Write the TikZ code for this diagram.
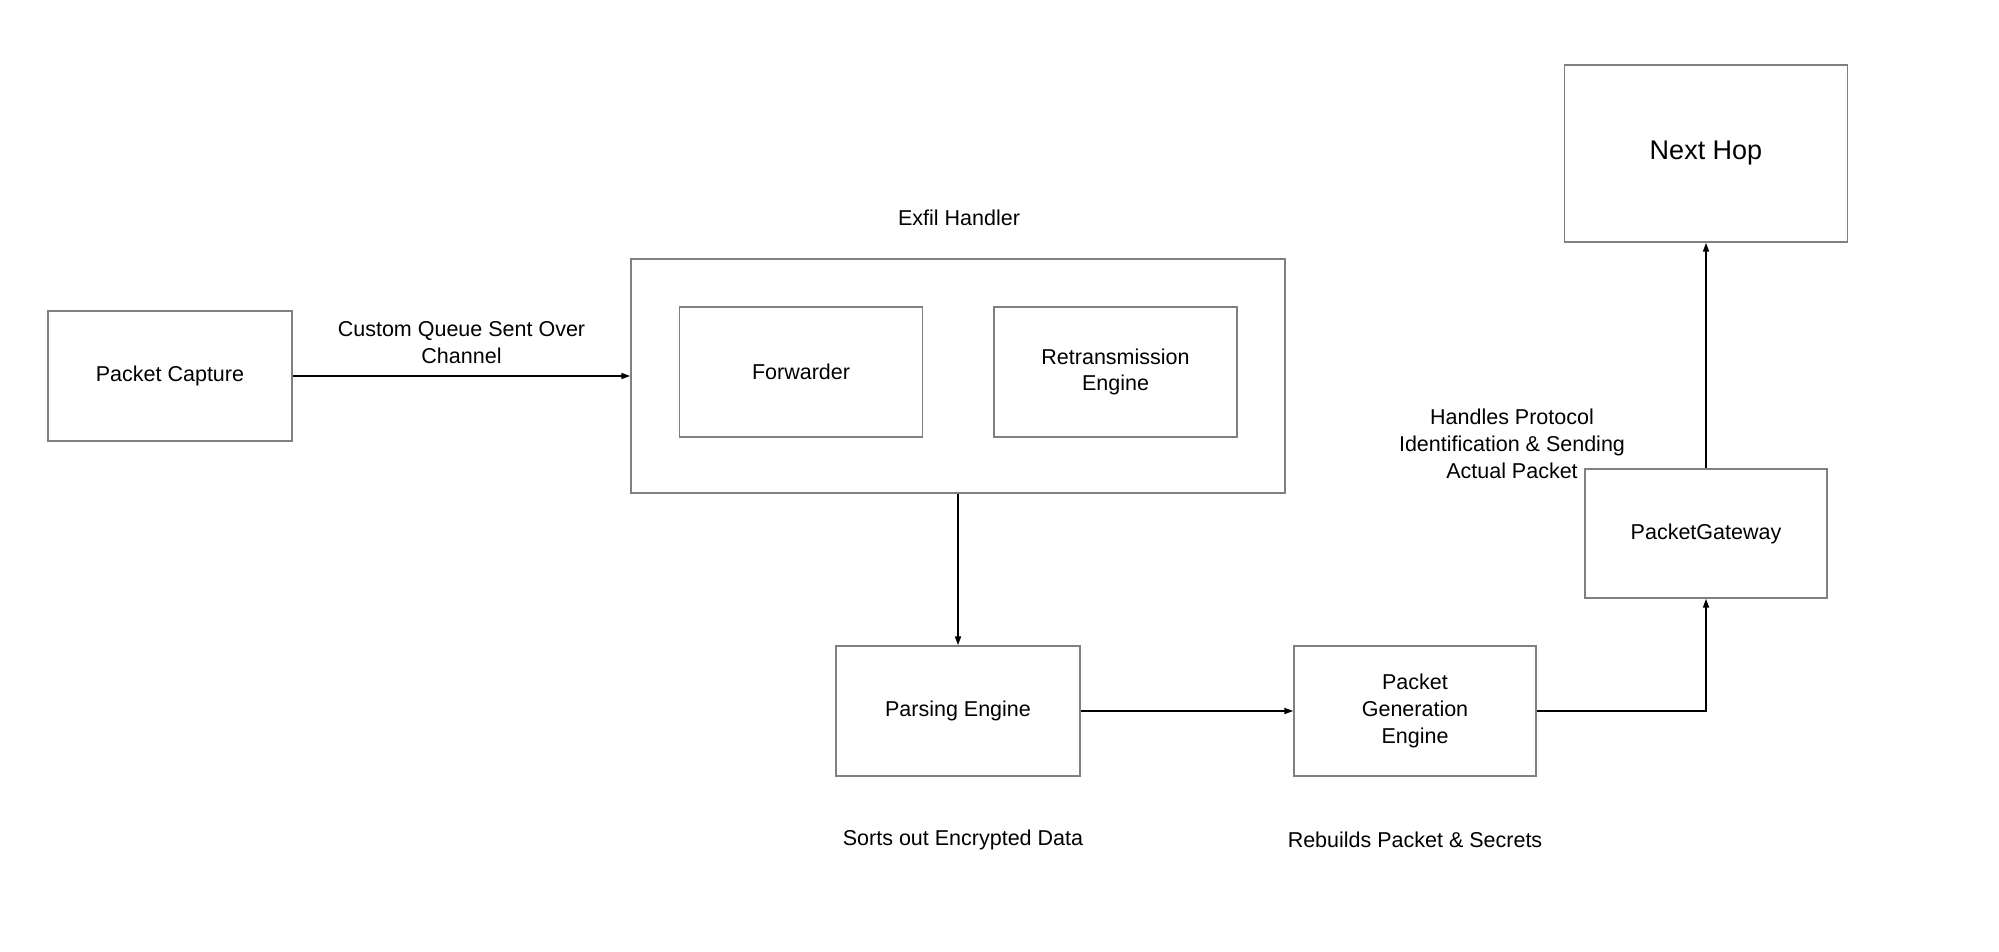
\documentclass[tikz,border=0pt]{standalone}
\usepackage{fontspec}
\setmainfont{Liberation Sans}
\usetikzlibrary{arrows.meta}
\begin{document}
\begin{tikzpicture}[x=1pt,y=-1pt,
  box/.style={draw=black!50,line width=1.4pt,fill=white,align=center,inner sep=0pt,
    font=\fontsize{21.5}{26.8}\selectfont},
  lbl/.style={align=center,inner sep=0pt,font=\fontsize{21.5}{26.8}\selectfont},
  conn/.style={line width=1.8pt,-{Triangle[length=9pt,width=6pt]}}]
\fill[white] (0,0) rectangle (1999,952);
\useasboundingbox (0,0) rectangle (1999,952);
\node[box,minimum width=244pt,minimum height=130pt] (pc) at (170,376) {Packet Capture};
\node[box,minimum width=654pt,minimum height=234pt] (ex) at (958,376) {};
\node[box,minimum width=243pt,minimum height=130pt] (fw) at (801,372) {Forwarder};
\node[box,minimum width=243pt,minimum height=130pt] (re) at (1115.5,372) {Retransmission\\Engine};
\node[box,minimum width=244pt,minimum height=130pt] (pe) at (958,711) {Parsing Engine};
\node[box,minimum width=242pt,minimum height=130pt] (pg) at (1415,711) {Packet\\Generation\\Engine};
\node[box,minimum width=242pt,minimum height=129pt] (gw) at (1706,533.5) {PacketGateway};
\node[box,minimum width=283pt,minimum height=177pt,font=\fontsize{27}{32}\selectfont] (nh) at (1706,153.5) {\raisebox{6pt}{Next Hop}};
\node[lbl] (lq) at (461.5,342.5) {Custom Queue Sent Over\\Channel};
\node[lbl] (lex) at (959,218) {Exfil Handler};
\node[lbl] (lh) at (1512,444) {Handles Protocol\\Identification \& Sending\\Actual Packet};
\node[lbl] (ls) at (963,840) {Sorts out Encrypted Data};
\node[lbl] (lr) at (1415,840) {Rebuilds Packet \& Secrets};
\draw[conn] (pc.east) -- (ex.west);
\draw[conn] (ex.south) -- (pe.north);
\draw[conn] (pe.east) -- (pg.west);
\draw[conn] (pg.east) -| (gw.south);
\draw[conn] (gw.north) -- (nh.south);
\end{tikzpicture}
\end{document}
